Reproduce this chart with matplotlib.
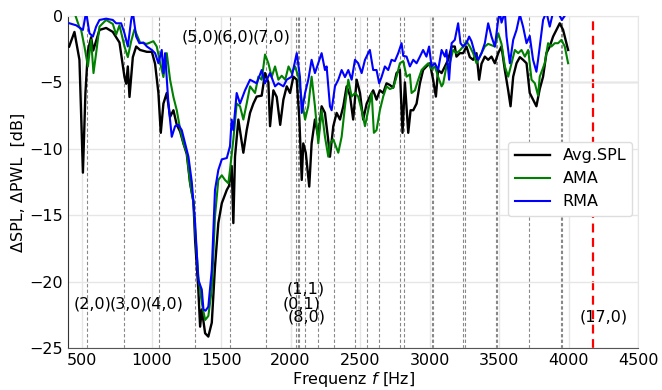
import matplotlib
matplotlib.use("Agg")
import matplotlib.pyplot as plt

# --- measured level differences (frequency in Hz, level in dB) ---
f_spl = [407, 445, 481, 506, 524, 542, 565, 580, 625, 673, 721, 769, 805, 817, 829, 841,
         865, 889, 917, 966, 1002, 1025, 1049, 1066, 1085, 1109, 1133, 1157, 1181, 1205,
         1229, 1253, 1277, 1301, 1313, 1336, 1349, 1361, 1385, 1408, 1433, 1456, 1480,
         1505, 1541, 1557, 1576, 1588, 1600, 1624, 1660, 1684, 1708, 1732, 1756, 1792,
         1816, 1840, 1852, 1876, 1900, 1925, 1948, 1972, 1996, 2020, 2044, 2063, 2080,
         2091, 2109, 2134, 2151, 2175, 2199, 2223, 2247, 2270, 2283, 2307, 2331, 2355,
         2379, 2403, 2427, 2450, 2475, 2499, 2522, 2547, 2570, 2594, 2618, 2642, 2666,
         2690, 2714, 2738, 2762, 2786, 2805, 2822, 2846, 2863, 2882, 2906, 2930, 2953,
         2977, 3002, 3025, 3045, 3061, 3086, 3110, 3133, 3158, 3181, 3193, 3217, 3241,
         3265, 3289, 3313, 3337, 3356, 3373, 3397, 3421, 3445, 3469, 3493, 3517, 3541,
         3565, 3582, 3601, 3625, 3649, 3672, 3697, 3720, 3744, 3768, 3792, 3816, 3840,
         3864, 3888, 3912, 3936, 3960, 3984, 3996]
avg_spl = [-2.3, -1.2, -3.3, -11.8, -5.8, -2.6, -1.6, -2.6, -1.05, -0.9, -1.2, -2.0, -4.6,
           -5.1, -3.8, -6.1, -3.1, -2.3, -2.56, -2.7, -2.7, -3.6, -5.8, -8.8, -6.6, -5.8,
           -7.6, -7.1, -8.2, -8.7, -9.6, -10.4, -12.6, -14.0, -16.9, -20.6, -23.4, -22.1,
           -23.9, -24.15, -23.1, -18.9, -15.6, -14.1, -13.1, -12.8, -11.3, -15.6, -10.6,
           -7.8, -10.3, -8.6, -7.3, -6.6, -6.07, -6.0, -4.3, -5.0, -8.3, -5.6, -6.1, -8.2,
           -6.3, -5.3, -5.8, -4.57, -4.8, -7.8, -12.35, -9.6, -10.3, -12.85, -9.6, -7.8,
           -9.1, -6.8, -7.3, -9.3, -10.6, -8.3, -7.3, -7.8, -6.8, -5.3, -6.0, -7.8, -4.8,
           -5.8, -7.8, -6.6, -6.07, -5.6, -6.3, -5.6, -5.8, -5.07, -5.2, -5.4, -4.3, -4.07,
           -8.8, -5.0, -8.8, -7.1, -7.1, -6.6, -5.07, -4.07, -3.8, -3.56, -4.8, -6.07,
           -4.07, -4.3, -3.8, -3.3, -2.3, -2.3, -3.06, -2.8, -2.8, -2.3, -3.1, -3.3, -2.8,
           -4.8, -3.6, -3.06, -3.3, -3.06, -3.56, -2.8, -2.3, -4.07, -5.6, -6.8, -4.57,
           -3.56, -3.1, -3.3, -3.56, -5.8, -6.3, -6.8, -5.5, -4.57, -2.8, -2.3, -1.55,
           -1.05, -0.55, -1.05, -2.05, -2.56]

f_ama = [407, 450, 479, 493, 517, 542, 553, 565, 582, 601, 625, 673, 721, 745, 769, 805,
         829, 853, 877, 917, 966, 990, 1013, 1037, 1061, 1085, 1109, 1133, 1157, 1181,
         1205, 1229, 1253, 1277, 1301, 1313, 1336, 1361, 1385, 1408, 1433, 1456, 1480,
         1505, 1528, 1552, 1564, 1588, 1612, 1636, 1660, 1684, 1708, 1744, 1768, 1792,
         1816, 1840, 1864, 1888, 1912, 1936, 1961, 1985, 2008, 2032, 2056, 2080, 2104,
         2127, 2151, 2175, 2199, 2223, 2247, 2271, 2283, 2307, 2343, 2367, 2391, 2415,
         2439, 2463, 2486, 2511, 2535, 2558, 2583, 2599, 2618, 2642, 2666, 2690, 2714,
         2738, 2762, 2786, 2810, 2834, 2858, 2870, 2894, 2918, 2942, 2966, 2990, 3014,
         3038, 3061, 3086, 3097, 3121, 3145, 3169, 3193, 3217, 3241, 3265, 3289, 3313,
         3337, 3361, 3397, 3421, 3445, 3469, 3493, 3517, 3541, 3565, 3589, 3613, 3637,
         3661, 3685, 3709, 3733, 3757, 3780, 3792, 3828, 3852, 3876, 3900, 3924, 3948,
         3972, 3996]
ama = [0.2, 0.1, -0.8, -1.05, -2.3, -3.8, -2.8, -1.8, -4.3, -2.8, -0.8, -0.3, -0.6, -1.4,
       -0.7, -2.3, -3.1, -1.9, -1.0, -2.0, -2.1, -2.0, -1.9, -2.3, -3.5, -4.6, -2.8, -4.8,
       -6.1, -7.1, -8.5, -9.6, -10.3, -12.6, -14.0, -16.1, -19.6, -21.6, -22.9, -22.6,
       -20.6, -15.1, -12.35, -12.0, -12.35, -12.6, -11.6, -9.3, -6.6, -6.8, -7.8, -6.6,
       -5.3, -5.8, -4.57, -4.8, -2.9, -3.56, -4.6, -3.8, -4.8, -4.5, -4.8, -3.8, -4.3,
       -3.8, -4.6, -6.3, -7.8, -6.8, -4.57, -6.8, -9.6, -7.1, -9.1, -10.6, -9.6, -9.3,
       -10.3, -9.1, -6.8, -4.8, -6.07, -5.8, -6.07, -7.1, -8.3, -7.1, -5.8, -8.8, -8.6,
       -7.1, -6.07, -5.3, -5.5, -5.4, -4.57, -3.56, -3.4, -4.57, -4.4, -5.8, -5.6, -4.8,
       -4.07, -3.8, -3.56, -4.0, -3.8, -4.57, -5.3, -5.1, -3.8, -3.56, -2.56, -2.8, -2.6,
       -2.3, -1.9, -2.3, -2.8, -3.56, -3.06, -2.3, -2.1, -2.2, -2.3, -1.3, -2.1, -3.8,
       -4.57, -3.56, -2.56, -2.8, -2.56, -3.06, -2.56, -4.8, -5.07, -6.0, -4.57, -3.56,
       -2.05, -2.3, -2.05, -2.05, -1.8, -2.3, -3.56]

f_rma = [409, 457, 506, 529, 553, 578, 601, 625, 673, 721, 745, 781, 805, 829, 853, 865,
         889, 912, 941, 966, 1002, 1025, 1049, 1073, 1085, 1097, 1121, 1145, 1169, 1193,
         1217, 1241, 1265, 1289, 1313, 1336, 1361, 1373, 1388, 1408, 1433, 1456, 1480,
         1505, 1541, 1564, 1576, 1588, 1612, 1636, 1672, 1708, 1756, 1792, 1816, 1852,
         1888, 1912, 1948, 1972, 2008, 2044, 2067, 2080, 2104, 2127, 2151, 2175, 2199,
         2223, 2247, 2259, 2283, 2295, 2319, 2343, 2367, 2391, 2415, 2439, 2463, 2486,
         2511, 2535, 2558, 2570, 2594, 2618, 2637, 2654, 2678, 2702, 2726, 2750, 2774,
         2798, 2810, 2834, 2858, 2882, 2906, 2930, 2953, 2977, 2996, 3014, 3038, 3061,
         3086, 3110, 3121, 3140, 3158, 3181, 3205, 3222, 3241, 3265, 3284, 3301, 3325,
         3349, 3373, 3397, 3421, 3445, 3469, 3493, 3505, 3517, 3541, 3553, 3577, 3601,
         3625, 3649, 3672, 3697, 3720, 3744, 3768, 3780, 3816, 3840, 3864, 3888, 3922,
         3951, 3984]
rma = [-0.55, -0.7, -1.05, 0.3, -1.3, -1.55, -0.8, -0.3, -0.2, -0.3, -0.55, -0.55, -1.3,
       -2.3, -0.3, 0.3, -1.55, -2.05, -2.0, -2.3, -2.56, -2.8, -3.56, -2.56, -4.3, -2.8,
       -6.6, -9.1, -8.3, -8.2, -8.6, -9.6, -10.6, -12.5, -15.6, -19.9, -20.6, -22.1,
       -22.2, -21.9, -19.1, -13.1, -11.6, -10.8, -10.7, -9.8, -7.8, -8.6, -5.8, -6.6,
       -5.6, -4.8, -5.07, -4.07, -5.07, -4.3, -5.3, -5.07, -5.3, -4.8, -4.57, -2.8, -4.57,
       -7.3, -5.8, -4.8, -3.3, -4.3, -3.56, -2.8, -4.07, -3.8, -6.8, -7.1, -5.3, -4.8,
       -4.07, -4.6, -4.07, -4.8, -3.3, -3.56, -4.3, -3.3, -2.8, -2.56, -4.07, -4.07,
       -5.07, -4.6, -3.8, -4.07, -3.3, -3.4, -2.8, -2.05, -3.0, -3.06, -3.8, -3.3, -3.56,
       -3.06, -2.56, -3.06, -2.3, -3.8, -3.56, -4.07, -2.56, -3.06, -2.56, -4.8, -2.05,
       -1.8, -0.55, -2.05, -2.3, -2.05, -1.55, -1.9, -2.8, -3.3, -2.8, -2.05, -0.55,
       -1.55, -2.3, -0.3, 0.3, -0.5, 0.3, -1.55, -3.56, -1.8, -1.05, 0.1, -0.8, -2.05,
       -1.5, -3.3, -4.2, -3.3, -0.3, 0.3, -0.8, 0.3, 0.3, -0.3, 0.2]

# --- room mode frequencies (Hz) drawn as dashed markers ---
mode_freqs = [534, 798, 1056, 1313, 1565, 1821, 2003, 2036, 2050, 2060, 2104, 2195,
              2312, 2463, 2547, 2636, 2787, 2815, 3014, 3026, 3241, 3253, 3474, 3481,
              3714, 3943, 3952]
cutoff_freq = 4176

# --- mode annotations: label, frequency, level ---
mode_labels = ["(2,0)", "(3,0)", "(4,0)", "(5,0)", "(6,0)", "(7,0)",
               "(1,1)", "(0,1)", "(8,0)", "(17,0)"]
label_freqs = [534, 798, 1056, 1313, 1565, 1821, 2067, 2043, 2076, 4176]
label_levels = [-21.7, -21.7, -21.7, -1.6, -1.6, -1.6, -20.6, -21.7, -22.7, -22.7]

xticks = [500, 1000, 1500, 2000, 2500, 3000, 3500, 4000, 4500]
yticks = [-25, -20, -15, -10, -5, 0]

FS = 11.5
plt.rcParams["font.family"] = ["DejaVu Sans"]
plt.rcParams["font.size"] = FS

fig = plt.figure(figsize=(6.62, 3.90), dpi=100)
ax = fig.add_axes([0.103, 0.108, 0.861, 0.851])

ax.grid(True, color="#e6e6e6", linewidth=1.0, zorder=0)
ax.axhline(-5, color="#a0a0a0", linewidth=0.9, zorder=1)

for f in mode_freqs:
    ax.axvline(f, color="#888888", linestyle=(0, (3, 2)), linewidth=0.8, zorder=1)
ax.axvline(cutoff_freq, color="red", linestyle=(0, (4, 2.5)), linewidth=1.6, zorder=1)

ax.plot(f_spl, avg_spl, color="black", linewidth=1.7, label="Avg.SPL", zorder=3)
ax.plot(f_ama, ama, color="#008000", linewidth=1.5, label="AMA", zorder=4)
ax.plot(f_rma, rma, color="#0000ff", linewidth=1.5, label="RMA", zorder=5)

for lab, f, lv in zip(mode_labels, label_freqs, label_levels):
    ax.text(f - 97, lv, lab, ha="left", va="center", fontsize=FS, zorder=6)

ax.set_xlim(400, 4500)
ax.set_ylim(-25, 0)
ax.set_xticks(xticks)
ax.set_yticks(yticks)
ax.tick_params(length=0, pad=4, labelsize=FS)

for side in ("top", "right"):
    ax.spines[side].set_color("#e6e6e6")
ax.spines["left"].set_color("#333333")
ax.spines["bottom"].set_color("#555555")

ax.set_xlabel("Frequenz $f$ [Hz]", fontsize=FS, labelpad=1)
ax.set_ylabel("ΔSPL, ΔPWL  [dB]", fontsize=FS, labelpad=2)

leg = ax.legend(loc="upper right", bbox_to_anchor=(0.99, 0.62), borderaxespad=0,
                fontsize=FS, frameon=True, fancybox=True, handlelength=2.2)
leg.get_frame().set_edgecolor("#dddddd")
leg.get_frame().set_alpha(1.0)

fig.savefig("out.png", dpi=100)
